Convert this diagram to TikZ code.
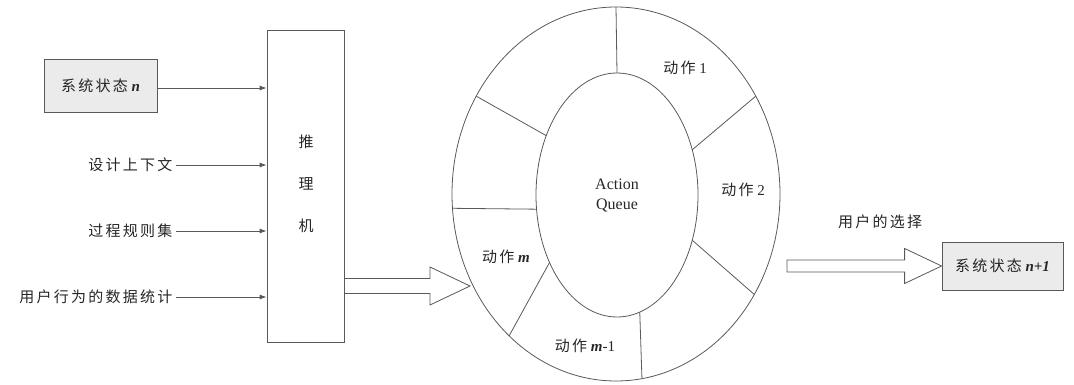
\documentclass[tikz,border=0pt]{standalone}
\usepackage{fontspec}
\setmainfont{Liberation Serif}
\newfontfamily\cjk[LetterSpace=15]{Noto Sans CJK SC}
\usetikzlibrary{shapes.geometric,calc,arrows.meta}

\tikzset{
  statebox/.style={draw=black!65,fill=black!8,thick,inner sep=0pt},
  input/.style={draw=black!65,thick,-{Latex[length=7pt,width=5pt]}},
  ring/.style={draw=black!65,thick,ellipse,inner sep=0pt,outer sep=0pt},
  hollow/.style={draw=black!65,thick,fill=white}
}
\newcommand\hollowarrow[5]{%
  \draw[hollow] let \p1=(#1),\p2=(#2) in
    (\x1,\y1+#3) -- (\x2-#5,\y1+#3) -- (\x2-#5,\y1+#4) -- (\x2,\y2)
    -- (\x2-#5,\y1-#4) -- (\x2-#5,\y1-#3) -- (\x1,\y1-#3) -- cycle;}

\begin{document}
\begin{tikzpicture}[x=1pt,y=-1pt,font=\fontsize{15}{18}\selectfont,text=black!85]
\useasboundingbox (0,0) rectangle (1074,385);

% inputs
\node[statebox,minimum width=113pt,minimum height=53pt](s0) at (100.5,86){{\cjk 系统状态} \textit{\textbf{n}}};
\node[draw=black!65,thick,minimum width=77pt,minimum height=312pt](tlj) at (305.5,186){};
\node[align=center] at (306,184){\cjk 推\\[24pt]\cjk 理\\[24pt]\cjk 机};
\node[anchor=east](ctx) at (176,165){\cjk 设计上下文};
\node[anchor=east](rule) at (176,231){\cjk 过程规则集};
\node[anchor=east](stat) at (176,297){\cjk 用户行为的数据统计};
\draw[input] (s0.east |- 0,88) -- (tlj.west |- 0,88);
\draw[input] (ctx) -- (ctx -| tlj.west);
\draw[input] (rule) -- (rule -| tlj.west);
\draw[input] (stat) -- (stat -| tlj.west);

% queue
\node[ring,minimum width=328pt,minimum height=374pt](outer) at (616,194){};
\node[ring,minimum width=162pt,minimum height=244pt,align=center,font=\fontsize{16}{20}\selectfont](inner) at (617,195){Action\\Queue};
\foreach \a/\b in {90/90, 31/35, -31/-36.5, -79/-82, 225.4/233.6, 190/185, 140/145}
  \draw[draw=black!65,thick] (inner.\a) -- (outer.\b);
\node(act1) at (685,68){{\cjk 动作} 1};
\node(act2) at (743,190){{\cjk 动作} 2};
\node(actm) at (506,257){{\cjk 动作} \textit{\textbf{m}}};
\node(actm1) at (585,346){{\cjk 动作} \textit{\textbf{m}}-1};

\coordinate (q0) at (tlj.east |- 0,286);
\coordinate (q1) at (470,286);
\hollowarrow{q0}{q1}{7.5pt}{19pt}{40pt}

% output
\node[statebox,minimum width=121pt,minimum height=48pt](s1) at (1002.5,266){{\cjk 系统状态} \textit{\textbf{n+1}}};
\node(pick) at (880,222){\cjk 用户的选择};
\coordinate (r0) at (787,266);
\hollowarrow{r0}{s1.west}{6pt}{17.5pt}{37pt}

\end{tikzpicture}
\end{document}
